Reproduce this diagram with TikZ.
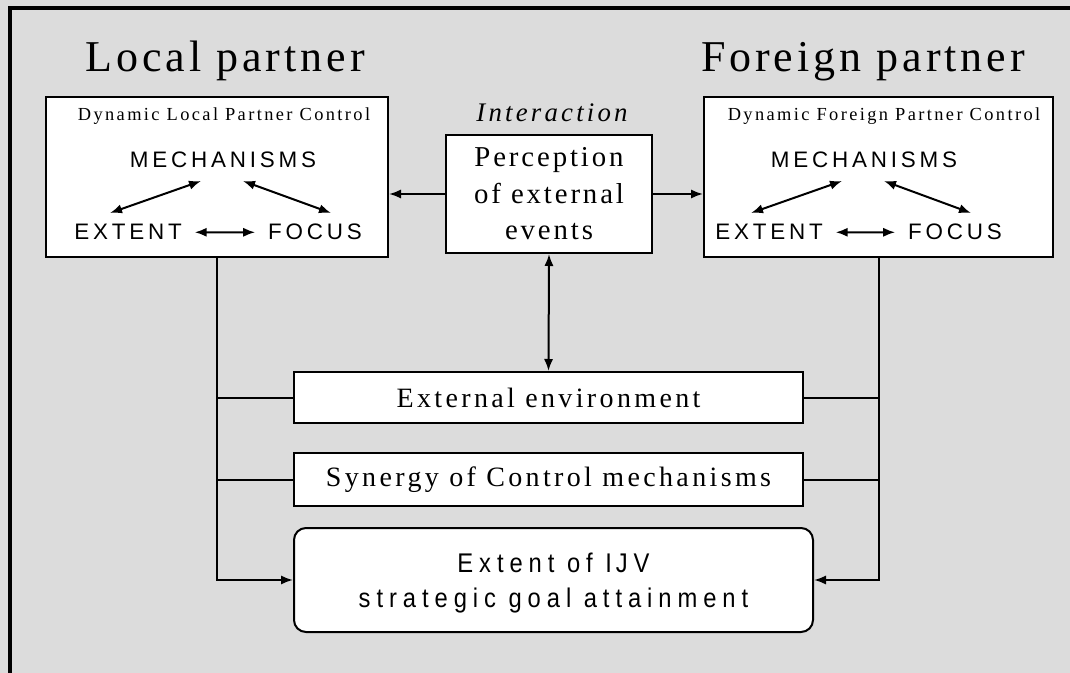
\documentclass[tikz,border=0pt]{standalone}
\usepackage{fontspec}
\setmainfont{Liberation Serif}
\setsansfont{Liberation Sans}
\newfontfamily\titlefont[LetterSpace=9]{Liberation Serif}
\newfontfamily\boxfont[LetterSpace=12]{Liberation Serif}
\newfontfamily\smallfont[LetterSpace=13]{Liberation Serif}
\newfontfamily\percfont[LetterSpace=10]{Liberation Serif}
\newfontfamily\capsfont[LetterSpace=17]{Liberation Sans}
\newfontfamily\goalfont[FakeStretch=0.88,LetterSpace=22]{Liberation Sans}
\usetikzlibrary{arrows.meta,calc}
\definecolor{panelgray}{HTML}{DCDCDC}

\begin{document}
\begin{tikzpicture}[x=0.5pt, y=-0.5pt, line width=1pt,
	box/.style={draw, fill=white, inner sep=0pt},
	txt/.style={inner sep=0pt, anchor=base},
	tip/.style={-{Latex[length=6pt,width=4.6pt]}},
	twotip/.style={{Latex[length=6pt,width=4.6pt]}-{Latex[length=6pt,width=4.6pt]}}]

	% Draw the background and the frame
	\fill[panelgray] (0,0) rectangle (1070,673);
	\useasboundingbox (0,0) rectangle (1070,673);
	\draw[line width=2pt] (10,673) -- (10,8) -- (1070,8);

	% Draw the titles
	\node[txt] (localtitle) at (225,72) {\fontsize{22}{26}\titlefont Local partner};
	\node[txt] (foreigntitle) at (863,72) {\fontsize{22}{26}\titlefont Foreign partner};
	\node[txt] (interaction) at (552,122) {\fontsize{13.4}{16}\boxfont\itshape Interaction};

	% Draw the control boxes
	\node[box, minimum width=171pt, minimum height=80pt] (localctrl) at (217,177) {};
	\node[box, minimum width=174.5pt, minimum height=80pt] (foreignctrl) at (878.5,177) {};

	\node[box, minimum width=103pt, minimum height=59pt, align=center,
		font=\fontsize{14.4}{18.25}\percfont] (percep) at (549,194)
		{Perception\\of external\\events};

	% Draw the texts inside the local box
	\node[txt] (ldyn) at (224,121) {\fontsize{9.2}{11}\smallfont Dynamic Local Partner Control};
	\node[txt] (lmech) at (223,168) {\fontsize{11.2}{13}\capsfont MECHANI\kern2pt SMS};
	\node[txt] (lext) at (128,240) {\fontsize{11.2}{13}\capsfont EXTENT};
	\node[txt] (lfocus) at (315,240) {\fontsize{11.2}{13}\capsfont FOCUS};

	% Draw the texts inside the foreign box
	\node[txt] (fdyn) at (884,121) {\fontsize{9.2}{11}\smallfont Dynamic Foreign Partner Control};
	\node[txt] (fmech) at (864,168) {\fontsize{11.2}{13}\capsfont MECHANI\kern2pt SMS};
	\node[txt] (fext) at (769,240) {\fontsize{11.2}{13}\capsfont EXTENT};
	\node[txt] (ffocus) at (955,240) {\fontsize{11.2}{13}\capsfont FOCUS};

	% Draw the arrows inside the boxes
	\draw[twotip] ($(lmech.base)+(-22,13)$) -- ($(lext.base)+(-18,-27)$);
	\draw[twotip] ($(lmech.base)+(20,13)$) -- ($(lfocus.base)+(16,-27)$);
	\draw[twotip, shorten <=6pt, shorten >=6pt] (lext) -- (lfocus);
	\draw[twotip] ($(fmech.base)+(-22,13)$) -- ($(fext.base)+(-18,-27)$);
	\draw[twotip] ($(fmech.base)+(20,13)$) -- ($(ffocus.base)+(16,-27)$);
	\draw[twotip, shorten <=6pt, shorten >=6pt] (fext) -- (ffocus);

	% Draw the lower boxes
	\node[box, minimum width=254.5pt, minimum height=25.5pt,
		font=\fontsize{14}{16}\boxfont] (ext) at (548.5,397.5) {External environment};
	\node[box, minimum width=254.5pt, minimum height=26.5pt,
		font=\fontsize{14}{16}\boxfont] (syn) at (548.5,479.5) {Synergy of Control mechanisms};
	\node[box, rounded corners=6pt, minimum width=259.5pt, minimum height=52pt] (goal) at (553.5,580) {};
	\node[align=center, inner sep=0pt, font=\fontsize{13.5}{17.5}\goalfont] (goaltext) at (553.5,583)
		{Extent of I\kern2pt JV\\strategic goal attainment};

	% Draw the connectors
	\draw[tip] (percep.west) -- (percep.west -| localctrl.east);
	\draw[tip] (percep.east) -- (percep.east -| foreignctrl.west);
	\draw[twotip] (percep.south) -- (ext.north);

	\draw[tip] (localctrl.south) |- (goal.west);
	\draw[tip] (foreignctrl.south) |- (goal.east);
	\draw (ext.west) -- (ext.west -| localctrl.south);
	\draw (syn.west) -- (syn.west -| localctrl.south);
	\draw (ext.east) -- (ext.east -| foreignctrl.south);
	\draw (syn.east) -- (syn.east -| foreignctrl.south);

\end{tikzpicture}
\end{document}
